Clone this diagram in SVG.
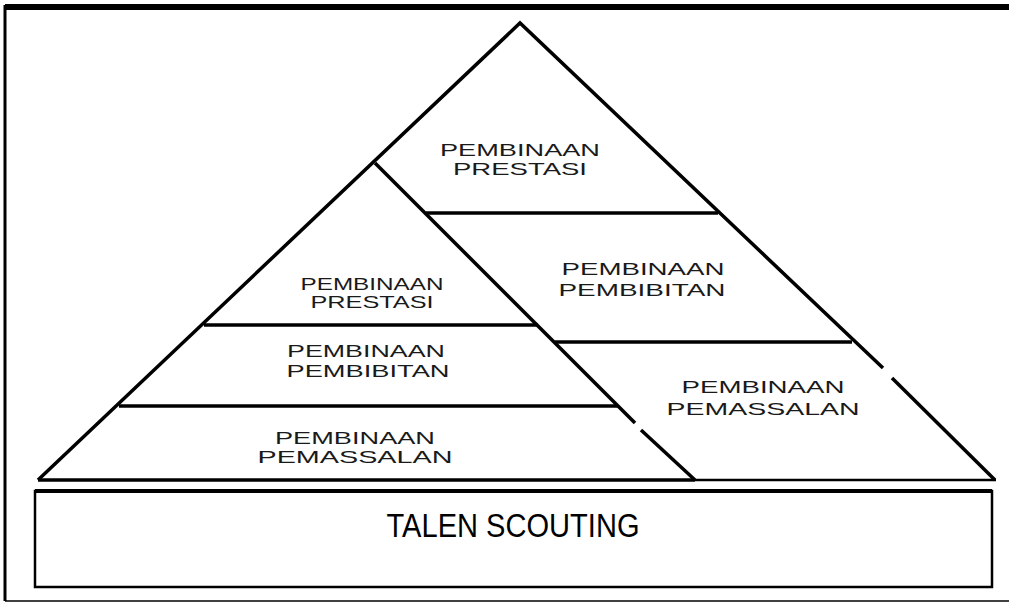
<svg xmlns="http://www.w3.org/2000/svg" width="1009" height="603" viewBox="0 0 1009 603">
<style>
.ln{stroke:#000;stroke-width:3.5;fill:none;stroke-linecap:butt}
.thin{stroke:#000;stroke-width:2.5;fill:none}
.lbl{font-family:"Liberation Sans",Arial,sans-serif;font-size:17px;fill:#1a1a1a;text-anchor:middle}
.big{font-family:"Liberation Sans",Arial,sans-serif;font-size:34px;fill:#000;text-anchor:middle}
</style>
<rect x="0" y="0" width="1009" height="603" fill="#fff"/>
<g id="frame">
<line x1="5" y1="7" x2="1009" y2="7" stroke="#000" stroke-width="6"/>
<line x1="5" y1="5" x2="5" y2="601" stroke="#000" stroke-width="3"/>
<line x1="5" y1="601" x2="1009" y2="601" stroke="#000" stroke-width="1.5"/>
</g>
<g id="connectors">
<polyline class="ln" points="38,480 520,23 883,368"/>
<line class="ln" x1="892" y1="378" x2="995" y2="480"/>
<line class="ln" x1="38" y1="480" x2="695" y2="480" stroke-width="4.5"/>
<line class="thin" x1="695" y1="480" x2="996" y2="480"/>
<line class="ln" x1="375" y1="163" x2="635" y2="423"/>
<line class="ln" x1="641" y1="430" x2="695" y2="480"/>
<line class="ln" x1="204" y1="325" x2="538" y2="325"/>
<line class="ln" x1="119" y1="406" x2="618" y2="406"/>
<line class="ln" x1="426" y1="213" x2="718" y2="213"/>
<line class="ln" x1="555" y1="342" x2="852" y2="342"/>
</g>
<g id="top-prestasi">
<text class="lbl" x="520" y="156" textLength="160" lengthAdjust="spacingAndGlyphs">PEMBINAAN</text>
<text class="lbl" x="520" y="175" textLength="134" lengthAdjust="spacingAndGlyphs">PRESTASI</text>
</g>
<g id="left-prestasi">
<text class="lbl" x="372" y="290" textLength="143" lengthAdjust="spacingAndGlyphs">PEMBINAAN</text>
<text class="lbl" x="372" y="308" textLength="123" lengthAdjust="spacingAndGlyphs">PRESTASI</text>
</g>
<g id="left-pembibitan">
<text class="lbl" x="366" y="357" textLength="158" lengthAdjust="spacingAndGlyphs">PEMBINAAN</text>
<text class="lbl" x="368" y="377" textLength="163" lengthAdjust="spacingAndGlyphs">PEMBIBITAN</text>
</g>
<g id="left-pemassalan">
<text class="lbl" x="355" y="444" textLength="160" lengthAdjust="spacingAndGlyphs">PEMBINAAN</text>
<text class="lbl" x="355" y="463" textLength="195" lengthAdjust="spacingAndGlyphs">PEMASSALAN</text>
</g>
<g id="right-pembibitan">
<text class="lbl" x="643" y="275" textLength="163" lengthAdjust="spacingAndGlyphs">PEMBINAAN</text>
<text class="lbl" x="642" y="296" textLength="167" lengthAdjust="spacingAndGlyphs">PEMBIBITAN</text>
</g>
<g id="right-pemassalan">
<text class="lbl" x="763" y="393" textLength="163" lengthAdjust="spacingAndGlyphs">PEMBINAAN</text>
<text class="lbl" x="763" y="415" textLength="193" lengthAdjust="spacingAndGlyphs">PEMASSALAN</text>
</g>
<g id="talen-scouting">
<rect x="35" y="491" width="957" height="96" fill="#fff" stroke="#000" stroke-width="2.5"/>
<line x1="35" y1="491" x2="992" y2="491" stroke="#000" stroke-width="4"/>
<text class="big" x="513" y="537" textLength="253" lengthAdjust="spacingAndGlyphs">TALEN SCOUTING</text>
</g>
</svg>
